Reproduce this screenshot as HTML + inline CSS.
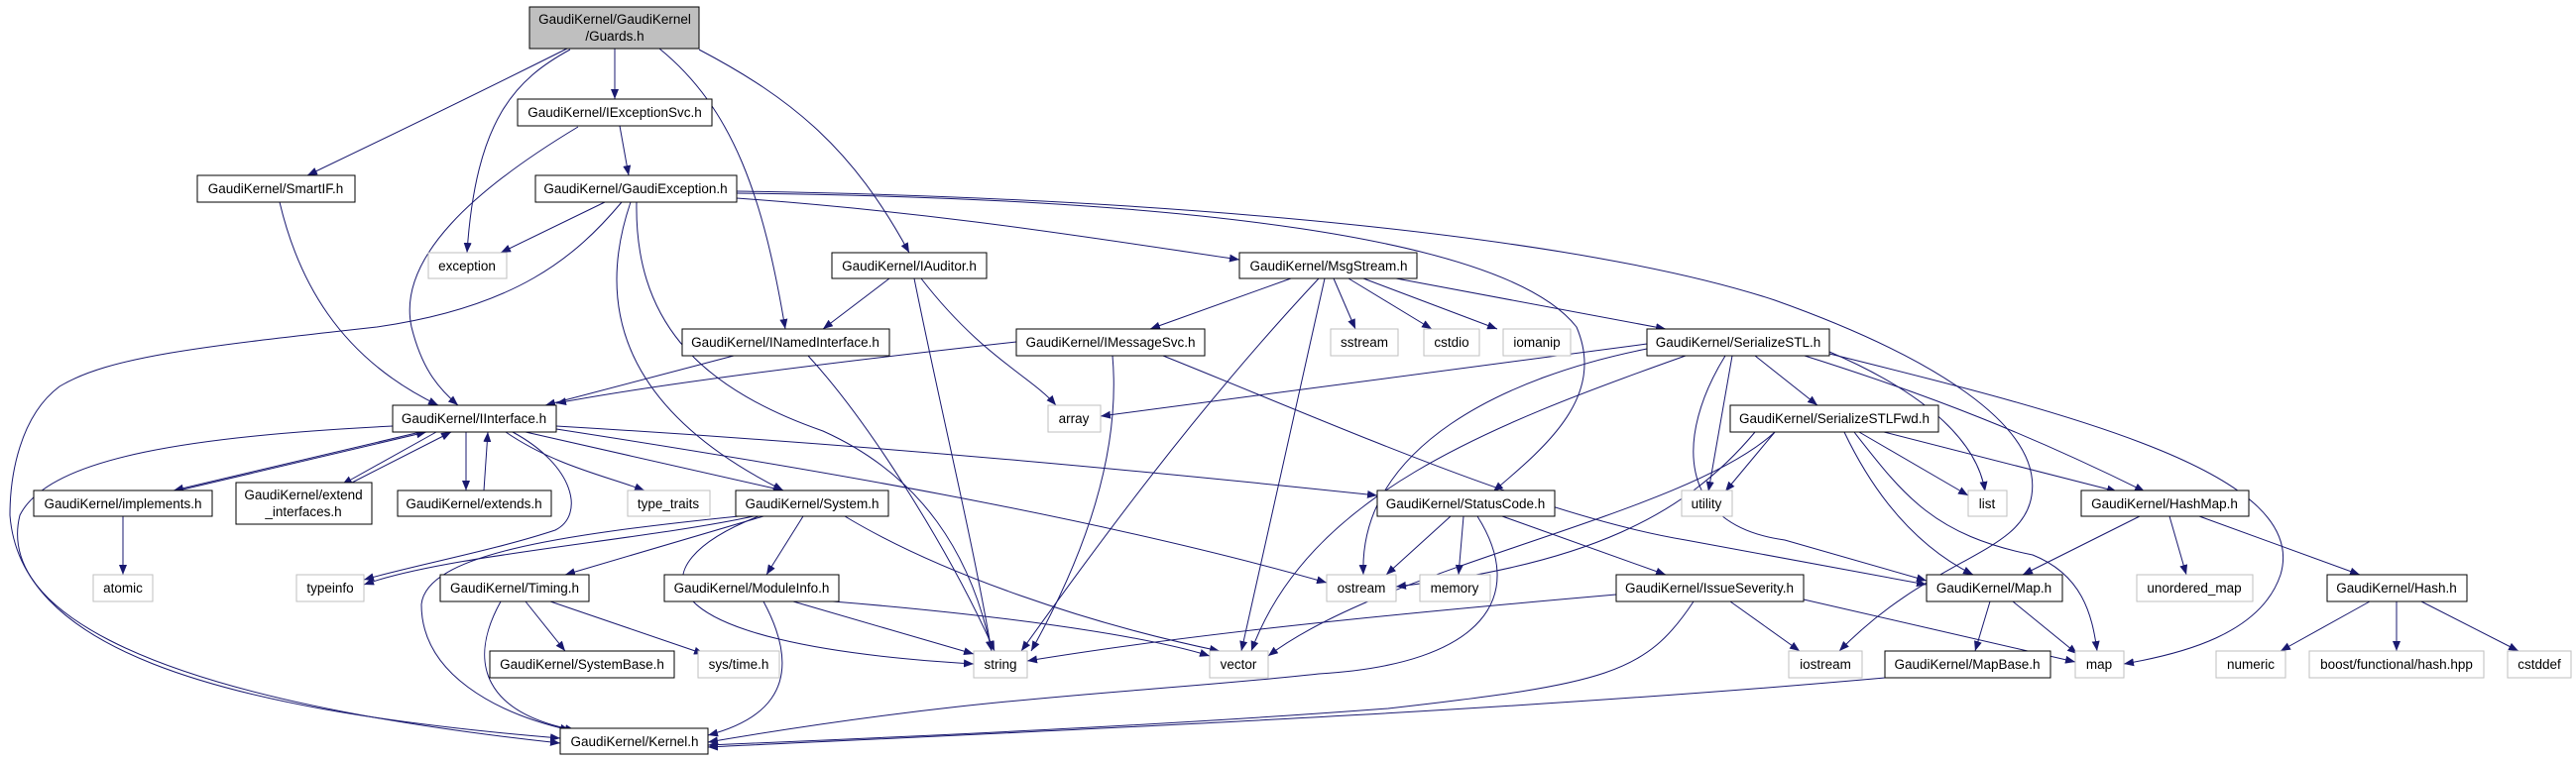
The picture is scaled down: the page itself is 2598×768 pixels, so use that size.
<!DOCTYPE html>
<html><head><meta charset="utf-8"><style>
html,body{margin:0;padding:0;background:#fff;}
svg{display:block;}
text{font-family:"Liberation Sans",Arial,sans-serif;font-size:13.5px;fill:#000;}
</style></head><body>
<svg width="2598" height="768" viewBox="0 0 2598 768" xmlns="http://www.w3.org/2000/svg">
<defs>
<marker id="a" viewBox="0 0 10 8" refX="10" refY="4" markerWidth="10" markerHeight="8" orient="auto" markerUnits="userSpaceOnUse">
<path d="M0,0 L10,4 L0,8 z" fill="#191970"/>
</marker>
</defs>
<g fill="none" stroke="#191970" stroke-width="1" marker-end="url(#a)">
<path d="M572,49 Q450,110 310,177"/>
<path d="M575,50 C520,80 480,120 471,255"/>
<path d="M620,49 L620,100"/>
<path d="M665,49 C740,110 770,200 792,332"/>
<path d="M705,50 C800,100 860,150 917,255"/>
<path d="M625,127 L634,177"/>
<path d="M583,128 C480,190 400,260 415,330 C425,370 440,390 462,409"/>
<path d="M282,204 C300,280 340,360 442,409"/>
<path d="M610,204 L505,255"/>
<path d="M627,204 C580,260 520,310 380,330 C200,350 110,360 60,390 C20,420 10,480 10,520 C20,650 200,715 565,745"/>
<path d="M396,430 C200,440 50,460 20,520 C0,600 100,700 565,750"/>
<path d="M636,204 C610,280 600,400 790,495"/>
<path d="M642,204 C640,320 700,390 830,435 C930,480 980,560 1000,657"/>
<path d="M743,200 C950,215 1100,240 1250,262"/>
<path d="M743,195 C1200,200 1520,240 1590,330 C1620,400 1560,450 1506,496"/>
<path d="M743,193 C1200,200 1600,240 1790,303 C1950,360 2060,430 2049,500 C2040,560 1950,560 1855,657"/>
<path d="M897,281 L830,332"/>
<path d="M922,281 C950,420 980,540 1000,657"/>
<path d="M929,281 C990,360 1040,380 1065,409"/>
<path d="M740,359 L550,409"/>
<path d="M815,359 C880,430 960,560 1003,657"/>
<path d="M1302,281 L1160,332"/>
<path d="M1330,281 C1200,420 1100,560 1030,657"/>
<path d="M1336,281 L1252,657"/>
<path d="M1345,281 L1367,332"/>
<path d="M1360,281 L1444,332"/>
<path d="M1375,281 L1510,332"/>
<path d="M1408,281 L1680,332"/>
<path d="M1025,345 C800,370 650,390 561,407"/>
<path d="M1122,359 C1130,450 1100,550 1040,657"/>
<path d="M1173,359 C1350,430 1550,520 1700,545 L1943,590"/>
<path d="M1661,347 L1110,420"/>
<path d="M1661,352 C1520,380 1370,450 1375,580"/>
<path d="M1700,359 C1500,430 1320,500 1262,657"/>
<path d="M1747,359 L1723,496"/>
<path d="M1770,359 L1833,409"/>
<path d="M1845,355 C1950,400 1995,450 2002,496"/>
<path d="M1820,359 C1950,400 2050,440 2163,496"/>
<path d="M1845,357 C2100,420 2330,480 2300,580 C2280,640 2200,660 2142,670"/>
<path d="M1740,359 C1690,440 1690,530 1800,545 L1943,586"/>
<path d="M1770,436 C1700,520 1600,570 1408,592"/>
<path d="M1790,436 C1700,520 1400,570 1279,662"/>
<path d="M1790,436 L1740,496"/>
<path d="M1875,436 L1985,500"/>
<path d="M1900,436 L2135,496"/>
<path d="M1860,436 C1900,520 1950,560 1990,580"/>
<path d="M1870,436 C1920,500 1950,540 2050,560 C2100,580 2110,620 2115,657"/>
<path d="M424,436 L175,495"/>
<path d="M180,495 L430,436"/>
<path d="M440,436 L345,489"/>
<path d="M355,487 L455,436"/>
<path d="M470,436 L470,495"/>
<path d="M488,495 L492,436"/>
<path d="M510,436 C560,470 610,480 650,495"/>
<path d="M530,436 L790,495"/>
<path d="M561,430 C900,450 1200,480 1389,500"/>
<path d="M561,433 C800,470 1100,520 1338,588"/>
<path d="M517,436 C580,470 590,520 560,535 C500,555 420,570 367,585"/>
<path d="M124,521 L124,580"/>
<path d="M760,521 C650,545 450,560 367,590"/>
<path d="M770,521 L570,580"/>
<path d="M810,521 L773,580"/>
<path d="M765,521 C640,570 640,650 982,670"/>
<path d="M852,521 C950,580 1100,630 1230,657"/>
<path d="M745,521 C560,540 430,560 425,610 C425,680 500,720 575,737"/>
<path d="M530,607 L570,657"/>
<path d="M555,607 L710,660"/>
<path d="M505,607 C470,670 490,720 580,737"/>
<path d="M800,607 L982,660"/>
<path d="M840,607 C1000,620 1150,640 1220,662"/>
<path d="M770,607 C820,700 760,730 714,742"/>
<path d="M1463,521 L1398,580"/>
<path d="M1476,521 L1471,580"/>
<path d="M1515,521 L1680,580"/>
<path d="M1490,521 C1540,600 1500,670 1330,680 C1150,700 1000,700 714,749"/>
<path d="M1630,600 C1400,620 1200,640 1036,667"/>
<path d="M1745,607 L1815,657"/>
<path d="M1819,605 L2093,668"/>
<path d="M1708,607 C1660,680 1620,690 1400,715 C1200,730 1000,740 714,752"/>
<path d="M1901,684 C1500,720 1000,740 714,754"/>
<path d="M2158,521 L2040,580"/>
<path d="M2188,521 L2205,580"/>
<path d="M2218,521 L2380,580"/>
<path d="M2007,607 L1992,657"/>
<path d="M2030,607 L2095,660"/>
<path d="M2390,607 L2300,657"/>
<path d="M2417,607 L2417,657"/>
<path d="M2442,607 L2540,657"/>
</g>
<g stroke-width="1">
<rect x="534" y="7" width="171" height="42" fill="#bfbfbf" stroke="#000"/>
<g fill="#fff" stroke="#000">
<rect x="522" y="100" width="196" height="27"/>
<rect x="199" y="177" width="159" height="27"/>
<rect x="540" y="177" width="203" height="27"/>
<rect x="839" y="255" width="156" height="26"/>
<rect x="688" y="332" width="209" height="27"/>
<rect x="1250" y="255" width="179" height="26"/>
<rect x="1025" y="332" width="190" height="27"/>
<rect x="1661" y="332" width="184" height="27"/>
<rect x="396" y="409" width="165" height="27"/>
<rect x="1745" y="409" width="210" height="27"/>
<rect x="34" y="495" width="180" height="26"/>
<rect x="238" y="487" width="137" height="42"/>
<rect x="401" y="495" width="155" height="26"/>
<rect x="742" y="495" width="154" height="26"/>
<rect x="1389" y="495" width="179" height="26"/>
<rect x="2099" y="495" width="169" height="26"/>
<rect x="444" y="580" width="150" height="27"/>
<rect x="670" y="580" width="176" height="27"/>
<rect x="1630" y="580" width="189" height="27"/>
<rect x="1943" y="580" width="137" height="27"/>
<rect x="2347" y="580" width="141" height="27"/>
<rect x="494" y="657" width="186" height="27"/>
<rect x="1901" y="657" width="167" height="27"/>
<rect x="565" y="735" width="149" height="26"/>
</g>
<g fill="#fff" stroke="#bfbfbf">
<rect x="432" y="255" width="79" height="26"/>
<rect x="1342" y="332" width="68" height="27"/>
<rect x="1436" y="332" width="56" height="27"/>
<rect x="1516" y="332" width="68" height="27"/>
<rect x="1057" y="409" width="53" height="27"/>
<rect x="633" y="495" width="83" height="26"/>
<rect x="1696" y="495" width="51" height="26"/>
<rect x="1985" y="495" width="39" height="26"/>
<rect x="94" y="580" width="60" height="27"/>
<rect x="299" y="580" width="68" height="27"/>
<rect x="1338" y="580" width="70" height="27"/>
<rect x="1432" y="580" width="71" height="27"/>
<rect x="2155" y="580" width="117" height="27"/>
<rect x="704" y="657" width="82" height="27"/>
<rect x="982" y="657" width="54" height="27"/>
<rect x="1220" y="657" width="59" height="27"/>
<rect x="1804" y="657" width="74" height="27"/>
<rect x="2093" y="657" width="49" height="27"/>
<rect x="2235" y="657" width="70" height="27"/>
<rect x="2329" y="657" width="176" height="27"/>
<rect x="2529" y="657" width="64" height="27"/>
</g>
</g>
<g text-anchor="middle">
<text x="620" y="24">GaudiKernel/GaudiKernel</text>
<text x="620" y="41">/Guards.h</text>
<text x="620" y="118">GaudiKernel/IExceptionSvc.h</text>
<text x="278" y="195">GaudiKernel/SmartIF.h</text>
<text x="641" y="195">GaudiKernel/GaudiException.h</text>
<text x="471" y="273">exception</text>
<text x="917" y="273">GaudiKernel/IAuditor.h</text>
<text x="1340" y="273">GaudiKernel/MsgStream.h</text>
<text x="792" y="350">GaudiKernel/INamedInterface.h</text>
<text x="1120" y="350">GaudiKernel/IMessageSvc.h</text>
<text x="1376" y="350">sstream</text>
<text x="1464" y="350">cstdio</text>
<text x="1550" y="350">iomanip</text>
<text x="1753" y="350">GaudiKernel/SerializeSTL.h</text>
<text x="1083" y="427">array</text>
<text x="478" y="427">GaudiKernel/IInterface.h</text>
<text x="1850" y="427">GaudiKernel/SerializeSTLFwd.h</text>
<text x="124" y="513">GaudiKernel/implements.h</text>
<text x="306" y="504">GaudiKernel/extend</text>
<text x="306" y="521">_interfaces.h</text>
<text x="478" y="513">GaudiKernel/extends.h</text>
<text x="674" y="513">type_traits</text>
<text x="819" y="513">GaudiKernel/System.h</text>
<text x="1478" y="513">GaudiKernel/StatusCode.h</text>
<text x="1721" y="513">utility</text>
<text x="2004" y="513">list</text>
<text x="2183" y="513">GaudiKernel/HashMap.h</text>
<text x="124" y="598">atomic</text>
<text x="333" y="598">typeinfo</text>
<text x="519" y="598">GaudiKernel/Timing.h</text>
<text x="758" y="598">GaudiKernel/ModuleInfo.h</text>
<text x="1373" y="598">ostream</text>
<text x="1467" y="598">memory</text>
<text x="1724" y="598">GaudiKernel/IssueSeverity.h</text>
<text x="2011" y="598">GaudiKernel/Map.h</text>
<text x="2213" y="598">unordered_map</text>
<text x="2417" y="598">GaudiKernel/Hash.h</text>
<text x="587" y="675">GaudiKernel/SystemBase.h</text>
<text x="745" y="675">sys/time.h</text>
<text x="1009" y="675">string</text>
<text x="1249" y="675">vector</text>
<text x="1841" y="675">iostream</text>
<text x="1984" y="675">GaudiKernel/MapBase.h</text>
<text x="2117" y="675">map</text>
<text x="2270" y="675">numeric</text>
<text x="2417" y="675">boost/functional/hash.hpp</text>
<text x="2561" y="675">cstddef</text>
<text x="640" y="753">GaudiKernel/Kernel.h</text>
</g>
</svg>
</body></html>
